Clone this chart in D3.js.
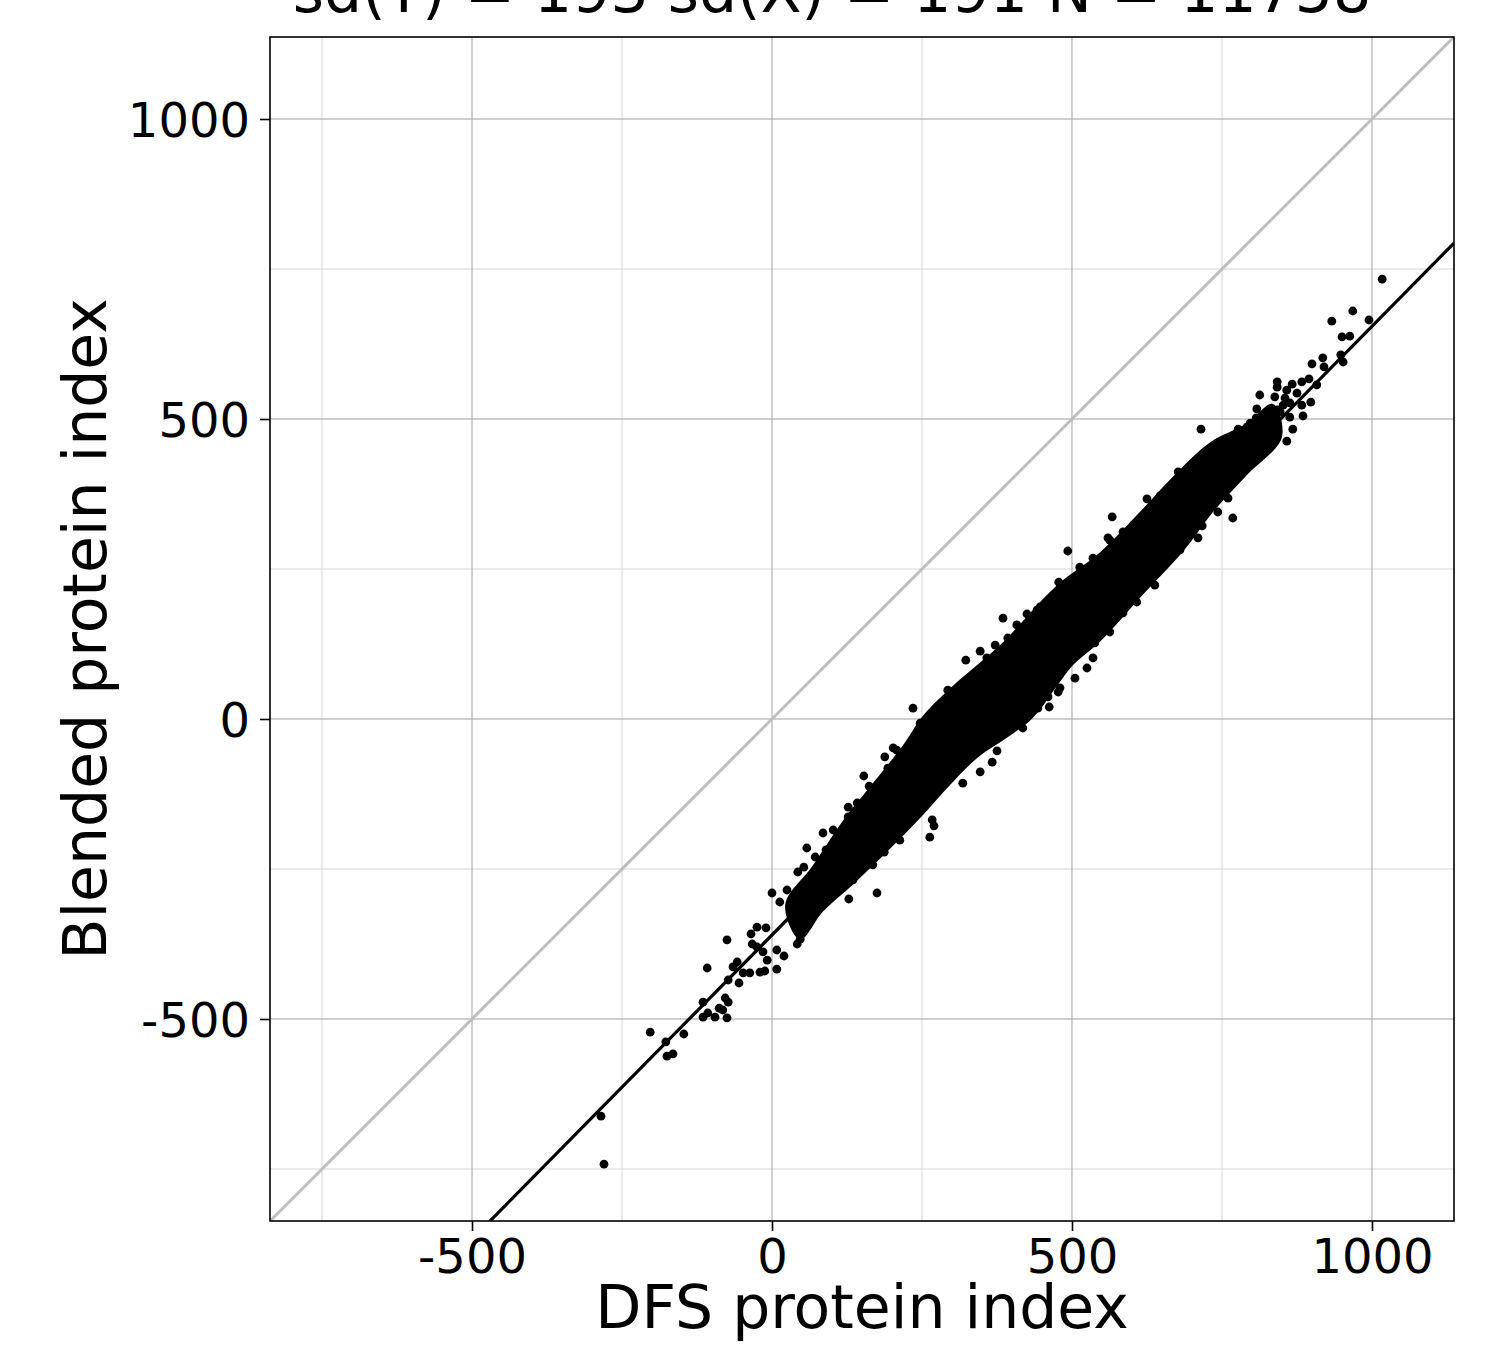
<!DOCTYPE html>
<html>
<head>
<meta charset="utf-8">
<script src="https://cdn.jsdelivr.net/npm/d3@7"></script>
<style>
  body { margin: 0; background: #fff; }
  text { font-family: "DejaVu Sans", sans-serif; fill: #000; }
</style>
</head>
<body>
<script>
// ---- data ----
var titleText = "sd(Y) = 193 sd(X) = 191 N = 11758";
var xLabel = "DFS protein index";
var yLabel = "Blended protein index";
var domain = [-836.7, 1136.7];
var majorTicks = [-500, 0, 500, 1000];
var minorTicks = [-750, -250, 250, 750];
var fitIntercept = -360;
var fitSlope = 1.0145;

// outline of the dense core of the cloud (upper edge, then lower edge, both left to right)
var coreUpper = [[22, -310], [68, -244], [125, -160], [152, -127], [218, -44], [252, 6],
  [302, 56], [342, 90], [385, 128], [475, 223], [547, 278], [613, 345], [675, 411],
  [730, 461], [790, 492], [835, 525]];
var coreLower = [[47, -368], [85, -321], [135, -276], [192, -221], [247, -165], [292, -115],
  [342, -65], [392, -31], [435, 2], [480, 62], [502, 90], [547, 129], [618, 207],
  [685, 279], [735, 345], [792, 407], [850, 470]];

// individual points outside / on the edge of the core
var points = [
  [-280, -742], [-285, -662], [-203, -522], [-177, -538], [-175, -562], [-165, -558],
  [-147, -525], [-115, -472], [-115, -497], [-107, -490], [-95, -497], [-88, -482],
  [-82, -485], [-75, -498], [-78, -465], [-73, -472], [-108, -415], [-75, -368],
  [-73, -435], [-65, -413], [-58, -405], [-55, -440], [-48, -423], [-37, -423],
  [-33, -375], [-35, -358], [-25, -347], [-20, -422], [-12, -420], [-8, -402],
  [8, -417], [-10, -348], [0, -290], [13, -305], [25, -285], [43, -255], [53, -247],
  [58, -215], [72, -230], [90, -218], [85, -190], [102, -185], [20, -395], [42, -375],
  [47, -367], [8, -385], [-15, -388], [-25, -380], [175, -290], [128, -300],
  [168, -243], [187, -222], [263, -197], [267, -168], [270, -178], [235, 18],
  [323, 98], [385, 168], [372, 123], [347, 113], [358, 102], [202, -48], [425, 175],
  [408, 157], [442, 182], [478, 228], [513, 253], [535, 102], [525, 85], [505, 68],
  [462, 20], [477, 45], [375, -53], [418, -15], [153, -95], [162, -112], [188, -63],
  [347, -88], [367, -72], [127, -147], [142, -140], [567, 337], [493, 280], [535, 268],
  [625, 367], [647, 372], [677, 412], [718, 437], [768, 335], [743, 345], [760, 368],
  [717, 322], [710, 302], [638, 223], [563, 145], [560, 302], [585, 312], [602, 323],
  [1017, 733], [968, 680], [933, 663], [995, 665], [950, 637], [963, 638], [918, 602],
  [948, 607], [952, 595], [900, 592], [920, 587], [842, 562], [842, 553], [867, 558],
  [883, 562], [895, 567], [908, 557], [813, 540], [838, 537], [855, 535], [863, 527],
  [883, 523], [898, 528], [808, 517], [885, 505], [868, 483], [858, 463], [715, 483],
  [777, 483], [792, 487], [807, 502], [830, 503], [847, 512], [763, 463], [733, 453],
  [827, 453], [818, 470], [842, 482],
  // bumps along the edges of the core
  [322, 60], [293, 48], [308, 48], [280, 20], [247, -7], [208, -52], [193, -82],
  [127, -163], [460, 37], [443, 18], [318, -107], [213, -202], [135, -268],
  [563, 298], [447, 187], [393, 135], [705, 423], [680, 282], [647, 253], [608, 195],
  [585, 177], [538, 127], [480, 52], [685, 403], [702, 427], [722, 435], [742, 443],
  [758, 453], [775, 465], [785, 477], [797, 493], [813, 498], [825, 490], [792, 448],
  [802, 460], [813, 443], [768, 427], [752, 412], [742, 395], [725, 407], [710, 398],
  [697, 387], [858, 548], [875, 543], [852, 523], [863, 503], [842, 515]
];

// ---- layout ----
var W = 1493, H = 1349;
var panel = { left: 270, top: 37, right: 1454, bottom: 1221 };

var svg = d3.select("body").append("svg")
    .attr("width", W)
    .attr("height", H);

svg.append("rect").attr("width", W).attr("height", H).attr("fill", "#fff");

var x = d3.scaleLinear().domain(domain).range([panel.left, panel.right]);
var y = d3.scaleLinear().domain(domain).range([panel.bottom, panel.top]);

svg.append("clipPath").attr("id", "clip")
  .append("rect")
    .attr("x", panel.left).attr("y", panel.top)
    .attr("width", panel.right - panel.left)
    .attr("height", panel.bottom - panel.top);

var grid = svg.append("g");
// minor grid
grid.selectAll(".mx").data(minorTicks).enter().append("line")
    .attr("x1", function (d) { return x(d); }).attr("x2", function (d) { return x(d); })
    .attr("y1", panel.top).attr("y2", panel.bottom)
    .attr("stroke", "#d6d6d6").attr("stroke-width", 1);
grid.selectAll(".my").data(minorTicks).enter().append("line")
    .attr("y1", function (d) { return y(d); }).attr("y2", function (d) { return y(d); })
    .attr("x1", panel.left).attr("x2", panel.right)
    .attr("stroke", "#d6d6d6").attr("stroke-width", 1);
// major grid
grid.selectAll(".Mx").data(majorTicks).enter().append("line")
    .attr("x1", function (d) { return x(d); }).attr("x2", function (d) { return x(d); })
    .attr("y1", panel.top).attr("y2", panel.bottom)
    .attr("stroke", "#a0a0a0").attr("stroke-width", 1);
grid.selectAll(".My").data(majorTicks).enter().append("line")
    .attr("y1", function (d) { return y(d); }).attr("y2", function (d) { return y(d); })
    .attr("x1", panel.left).attr("x2", panel.right)
    .attr("stroke", "#a0a0a0").attr("stroke-width", 1);

var plot = svg.append("g").attr("clip-path", "url(#clip)");

// identity line
plot.append("line")
    .attr("x1", x(domain[0])).attr("y1", y(domain[0]))
    .attr("x2", x(domain[1])).attr("y2", y(domain[1]))
    .attr("stroke", "#bebebe").attr("stroke-width", 3);

// dense core
var outline = coreUpper.concat(coreLower.slice().reverse());
plot.append("path")
    .attr("d", d3.line()
        .x(function (d) { return x(d[0]); })
        .y(function (d) { return y(d[1]); })
        .curve(d3.curveCatmullRomClosed.alpha(0.5))(outline))
    .attr("fill", "#000");

plot.selectAll("circle").data(points).enter().append("circle")
    .attr("cx", function (d) { return x(d[0]); })
    .attr("cy", function (d) { return y(d[1]); })
    .attr("r", 4.4)
    .attr("fill", "#000");

// fitted line
plot.append("line")
    .attr("x1", x(domain[0])).attr("y1", y(fitIntercept + fitSlope * domain[0]))
    .attr("x2", x(domain[1])).attr("y2", y(fitIntercept + fitSlope * domain[1]))
    .attr("stroke", "#000").attr("stroke-width", 3.2);

// panel border
svg.append("rect")
    .attr("x", panel.left).attr("y", panel.top)
    .attr("width", panel.right - panel.left)
    .attr("height", panel.bottom - panel.top)
    .attr("fill", "none").attr("stroke", "#000").attr("stroke-width", 1.6);

// axes
var fmt = function (d) { return String(d); };
var xAxis = d3.axisBottom(x).tickValues(majorTicks).tickFormat(fmt).tickSize(10).tickPadding(6);
var yAxis = d3.axisLeft(y).tickValues(majorTicks).tickFormat(fmt).tickSize(10).tickPadding(10);

var gx = svg.append("g").attr("transform", "translate(0," + panel.bottom + ")").call(xAxis);
var gy = svg.append("g").attr("transform", "translate(" + panel.left + ",0)").call(yAxis);
[gx, gy].forEach(function (g) {
  g.select(".domain").remove();
  g.selectAll(".tick line").attr("stroke", "#000").attr("stroke-width", 1.6);
  g.selectAll(".tick text").attr("font-size", 48).attr("font-family", "DejaVu Sans").attr("fill", "#000");
});
gx.selectAll(".tick text").attr("dy", "0.76em");
gy.selectAll(".tick text").attr("dy", "0.36em");

// titles
svg.append("text")
    .attr("x", (panel.left + panel.right) / 2).attr("y", 1328)
    .attr("text-anchor", "middle").attr("font-size", 60)
    .text(xLabel);
svg.append("text")
    .attr("transform", "translate(106," + (panel.top + panel.bottom) / 2 + ") rotate(-90)")
    .attr("text-anchor", "middle").attr("font-size", 60)
    .text(yLabel);
svg.append("text")
    .attr("x", 832).attr("y", 12)
    .attr("text-anchor", "middle").attr("font-size", 60)
    .text(titleText);
</script>
</body>
</html>
